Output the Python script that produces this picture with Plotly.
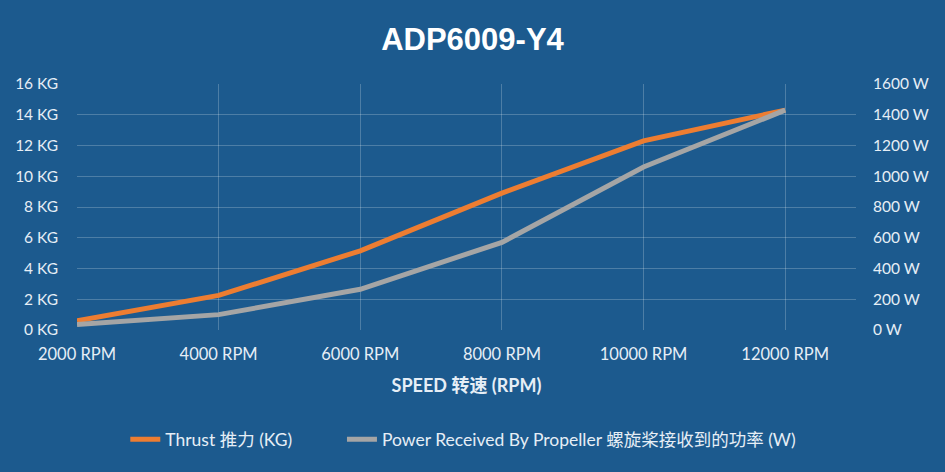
import plotly.graph_objects as go

# speed steps (RPM)
speed = [2000, 4000, 6000, 8000, 10000, 12000]
speed_labels = ["2000 RPM", "4000 RPM", "6000 RPM", "8000 RPM", "10000 RPM", "12000 RPM"]

# thrust in KG and power in W
thrust = [0.6, 2.25, 5.15, 8.9, 12.3, 14.3]
power = [35, 100, 265, 570, 1060, 1430]

kg_ticks = [0, 2, 4, 6, 8, 10, 12, 14, 16]
w_ticks = [0, 200, 400, 600, 800, 1000, 1200, 1400, 1600]

bg = "#1c5a8e"
txt = "#e6eef6"
grid = "rgba(255,255,255,0.22)"

fig = go.Figure()
# trailing no-break spaces widen the gap between the two legend entries
fig.add_trace(go.Scatter(x=speed, y=thrust, name="Thrust 推力 (KG)" + "\u00a0" * 10, mode="lines",
                         line=dict(color="#ed7d31", width=5), yaxis="y"))
fig.add_trace(go.Scatter(x=speed, y=power, name="Power Received By Propeller 螺旋桨接收到的功率 (W)",
                         mode="lines", line=dict(color="#a5a5a5", width=5), yaxis="y2"))

fig.update_layout(
    width=945, height=472,
    paper_bgcolor=bg, plot_bgcolor=bg,
    font=dict(family="Lato, Noto Sans CJK SC", size=15, color=txt),
    margin=dict(l=77, r=89, t=84, b=142),
    title=dict(text="<b>ADP6009-Y4</b>", x=0.5, xanchor="center", y=0.917, yanchor="middle",
               font=dict(family="Liberation Sans, Arial, sans-serif", size=31, color="#ffffff")),
    xaxis=dict(range=[2000, 13000], tickvals=speed, ticktext=speed_labels,
               showgrid=True, gridcolor=grid, gridwidth=1, zeroline=False, showline=False,
               ticks="", ticklabelstandoff=12, tickfont=dict(size=16.5),
               title=dict(text="<b>SPEED 转速 (RPM)</b>", standoff=16,
                          font=dict(size=18, color=txt))),
    yaxis=dict(range=[0, 16], tickvals=kg_ticks, ticktext=[f"{v} KG" for v in kg_ticks],
               showgrid=True, gridcolor=grid, zeroline=False, showline=False, ticks="",
               ticklabelstandoff=18, tickfont=dict(size=15.5)),
    yaxis2=dict(range=[0, 1600], tickvals=w_ticks, ticktext=[f"{v} W" for v in w_ticks],
                overlaying="y", side="right", showgrid=False, zeroline=False, ticks="",
                ticklabelstandoff=16, tickfont=dict(size=15.5)),
    legend=dict(orientation="h", x=0.062, xanchor="left", y=-0.445, yanchor="middle",
                font=dict(size=17.5, color=txt), bgcolor="rgba(0,0,0,0)", tracegroupgap=0),
    showlegend=True,
)

fig.write_html("out.html", config={"displayModeBar": False},
               post_script="document.body.style.margin='0';")
